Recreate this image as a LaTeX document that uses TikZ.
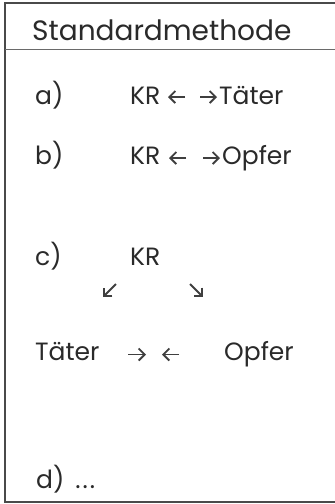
\documentclass[tikz,border=0pt]{standalone}
\usepackage{fontspec}
\usetikzlibrary{arrows.meta}
\setmainfont{Poppins}
\definecolor{ink}{HTML}{2A2A2A}
\begin{document}
\begin{tikzpicture}[x=1pt,y=-1pt,
  txt/.style={anchor=base west,inner sep=0pt,text=ink,font=\fontsize{25}{28}\selectfont},
  ttl/.style={anchor=base west,inner sep=0pt,text=ink,font=\fontsize{28}{30}\selectfont},
  garr/.style={draw=ink!90,line width=1.8pt,-{Straight Barb[length=6pt,width=12pt]}},
  frame/.style={draw=ink!85,line width=1.3pt}]
\useasboundingbox (0,0) rectangle (335,504);
\fill[white] (0,0) rectangle (335,504);
% frame
\coordinate (tl) at (5,3);
\coordinate (tr) at (335,3);
\coordinate (bl) at (5,502);
\coordinate (br) at (335,502);
\coordinate (sl) at (5,49);
\coordinate (sr) at (335,49);
\draw[frame] (tr) -- (tl) -- (bl) -- (br);
\draw[draw=ink!70,line width=0.8pt] (sl) -- (sr);
% title
\node[ttl] (title) at (32,40) {Standardmethode};
% a)
\node[txt] (a) at (35,104) {a)};
\node[txt] (akr) at (130,104) {KR};
\node[txt] (at) at (219,104) {Täter};
\coordinate (a1s) at (185,97); \coordinate (a1e) at (168,97);
\coordinate (a2s) at (200,97); \coordinate (a2e) at (217,97);
\draw[garr] (a1s) -- (a1e);
\draw[garr] (a2s) -- (a2e);
% b)
\node[txt] (b) at (35,164) {b)};
\node[txt] (bkr) at (130,164) {KR};
\node[txt] (bo) at (222,164) {Opfer};
\coordinate (b1s) at (186,158); \coordinate (b1e) at (169,158);
\coordinate (b2s) at (203,158); \coordinate (b2e) at (220,158);
\draw[garr] (b1s) -- (b1e);
\draw[garr] (b2s) -- (b2e);
% c)
\node[txt] (c) at (35,265) {c)};
\node[txt] (ckr) at (130,265) {KR};
\coordinate (c1s) at (116,284); \coordinate (c1e) at (103,297);
\coordinate (c2s) at (190,284); \coordinate (c2e) at (203,297);
\draw[garr] (c1s) -- (c1e);
\draw[garr] (c2s) -- (c2e);
\node[txt] (ct) at (35,360) {Täter};
\node[txt] (co) at (224,360) {Opfer};
\coordinate (c3s) at (128,354.5); \coordinate (c3e) at (146,354.5);
\coordinate (c4s) at (179,354.5); \coordinate (c4e) at (162,354.5);
\draw[garr] (c3s) -- (c3e);
\draw[garr] (c4s) -- (c4e);
% d)
\node[txt] (d) at (36,488) {d)\, .\hspace{2pt}.\hspace{2pt}.};
\end{tikzpicture}
\end{document}
